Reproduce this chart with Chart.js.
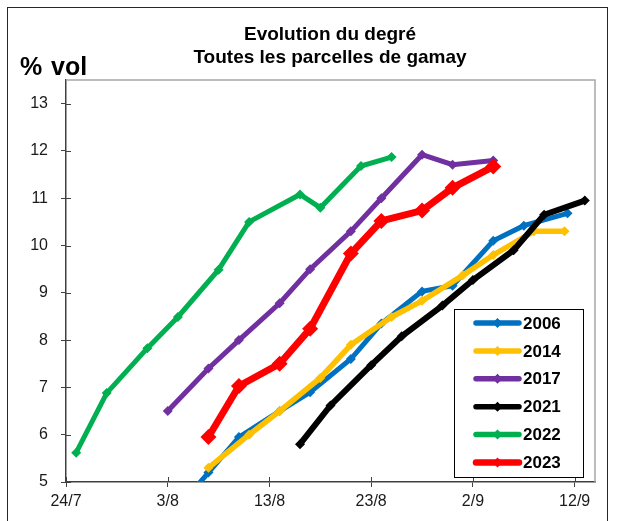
<!DOCTYPE html>
<html>
<head>
<meta charset="utf-8">
<script src="https://cdn.jsdelivr.net/npm/chart.js@4/dist/chart.umd.min.js"></script>
<style>
	body { margin: 0; background: #fff; }
	#wrap { width: 618px; height: 521px; }
</style>
</head>
<body>
<div id="wrap"><canvas id="chart-degre" width="618" height="521"></canvas></div>
<script>
// Utilities
const tickLabels = ['24/7', '3/8', '13/8', '23/8', '2/9', '12/9']; // every 10 days from 24/7
const years = ['2006', '2014', '2017', '2021', '2022', '2023'];
const colors = ['#0070C0', '#FFC000', '#7030A0', '#000000', '#00B050', '#FF0000'];

// days after 24/7 and % vol
const days2006 = [11, 14, 17, 21, 24, 28, 31, 35, 38, 42, 45, 49.3];
const vol2006 = [4.45, 5.2, 5.95, 6.5, 6.9, 7.6, 8.35, 9.03, 9.15, 10.1, 10.42, 10.68];

const days2014 = [14, 18, 21, 25, 28, 32, 35, 39, 42, 46, 49];
const vol2014 = [5.3, 6.0, 6.5, 7.2, 7.9, 8.49, 8.83, 9.37, 9.8, 10.3, 10.3];

const days2017 = [10, 14, 17, 21, 24, 28, 31, 35, 38, 42];
const vol2017 = [6.5, 7.4, 8.0, 8.78, 9.5, 10.3, 11.0, 11.92, 11.71, 11.8];

const days2021 = [23, 26, 30, 33, 37, 40, 44, 47, 51];
const vol2021 = [5.8, 6.62, 7.47, 8.08, 8.73, 9.27, 9.9, 10.65, 10.95];

const days2022 = [1, 4, 8, 11, 15, 18, 23, 25, 29, 32];
const vol2022 = [5.62, 6.88, 7.83, 8.49, 9.49, 10.5, 11.08, 10.8, 11.68, 11.87];

const days2023 = [14, 17, 21, 24, 28, 31, 35, 38, 42];
const vol2023 = [5.95, 7.03, 7.5, 8.24, 9.83, 10.52, 10.74, 11.22, 11.67];

const allDays = [days2006, days2014, days2017, days2021, days2022, days2023];
const allVols = [vol2006, vol2014, vol2017, vol2021, vol2022, vol2023];
const widths = [5, 5.5, 5, 6, 5, 7];
const radii = [5, 5, 5, 5, 5, 8];

const FONT = '"Liberation Sans", Arial, sans-serif';

// title, axis unit, frame, inner ticks, legend
const decor = {
	id: 'decor',
	afterDraw(chart) {
		const ctx = chart.ctx;
		const a = chart.chartArea;
		const xs = chart.scales.x;
		const ys = chart.scales.y;
		ctx.save();

		// outer frame
		ctx.strokeStyle = '#262626';
		ctx.lineWidth = 1;
		ctx.strokeRect(7.5, 7.5, 600, 530);

		// plot border top / right
		ctx.strokeStyle = '#a6a6a6';
		ctx.lineWidth = 1.5;
		ctx.beginPath();
		ctx.moveTo(a.left, a.top);
		ctx.lineTo(a.right, a.top);
		ctx.lineTo(a.right, a.bottom);
		ctx.stroke();

		// tick marks inside
		ctx.strokeStyle = '#404040';
		ctx.lineWidth = 1;
		xs.ticks.forEach((t) => {
			const x = Math.round(xs.getPixelForValue(t.value)) + 0.5;
			ctx.beginPath();
			ctx.moveTo(x, a.bottom);
			ctx.lineTo(x, a.bottom - 5);
			ctx.stroke();
		});
		ys.ticks.forEach((t) => {
			const y = Math.round(ys.getPixelForValue(t.value)) + 0.5;
			ctx.beginPath();
			ctx.moveTo(a.left, y);
			ctx.lineTo(a.left + 5, y);
			ctx.stroke();
		});

		// title
		ctx.fillStyle = '#000';
		ctx.textAlign = 'center';
		ctx.textBaseline = 'alphabetic';
		ctx.font = 'bold 19px ' + FONT;
		ctx.fillText('Evolution du degré', 330, 40);
		ctx.fillText('Toutes les parcelles de gamay', 330, 63);

		// unit
		ctx.textAlign = 'left';
		ctx.font = 'bold 25px ' + FONT;
		ctx.fillText('%', 20, 75);
		ctx.fillText('vol', 51, 75);

		// legend
		ctx.strokeStyle = '#000';
		ctx.lineWidth = 1;
		ctx.strokeRect(454.5, 309.5, 129, 168);
		ctx.font = 'bold 17px ' + FONT;
		ctx.textBaseline = 'middle';
		years.forEach((yr, i) => {
			const y = 323 + i * 27.9;
			ctx.strokeStyle = colors[i];
			ctx.lineWidth = i === 5 ? 6.5 : 5.5;
			ctx.lineCap = 'round';
			ctx.beginPath();
			ctx.moveTo(476, y);
			ctx.lineTo(519, y);
			ctx.stroke();
			ctx.fillStyle = colors[i];
			ctx.beginPath();
			ctx.moveTo(497.5, y - 5);
			ctx.lineTo(502.5, y);
			ctx.lineTo(497.5, y + 5);
			ctx.lineTo(492.5, y);
			ctx.closePath();
			ctx.fill();
			ctx.fillStyle = '#000';
			ctx.fillText(yr, 523, y + 1);
		});

		ctx.restore();
	},
};

!(function () {
	const ctx = document.getElementById('chart-degre');

	new Chart(ctx, {
		type: 'line',
		data: {
			datasets: years.map((yr, i) => ({
				label: yr,
				data: allDays[i].map((d, j) => ({ x: d, y: allVols[i][j] })),
				borderColor: colors[i],
				backgroundColor: colors[i],
				borderWidth: widths[i],
				pointStyle: 'rectRot',
				pointRadius: radii[i],
				pointBorderWidth: 0,
				pointHoverRadius: radii[i],
				tension: 0,
				order: 6 - i, // later years on top
			})),
		},
		options: {
			responsive: false,
			animation: false,
			layout: {
				padding: { top: 80, right: 23, left: 0, bottom: 0 },
			},
			scales: {
				x: {
					type: 'linear',
					min: 0,
					max: 52,
					afterFit: (scale) => { scale.height = 39; },
					border: { display: true, color: '#404040', width: 1.5 },
					grid: { display: true, drawOnChartArea: false, tickLength: 5, color: '#404040' },
					ticks: {
						stepSize: 10,
						includeBounds: false,
						padding: 5,
						color: '#1a1a1a',
						font: { family: FONT, size: 16 },
						maxRotation: 0,
						callback: (v) => tickLabels[v / 10],
					},
				},
				y: {
					min: 5,
					max: 13.5,
					afterFit: (scale) => { scale.width = 66; },
					border: { display: true, color: '#404040', width: 1.5 },
					grid: { display: true, drawOnChartArea: false, tickLength: 5, color: '#404040' },
					ticks: {
						stepSize: 1,
						includeBounds: false,
						padding: 13,
						color: '#1a1a1a',
						font: { family: FONT, size: 16 },
					},
				},
			},
			plugins: {
				legend: { display: false },
				title: { display: false },
				tooltip: { enabled: false },
			},
		},
		plugins: [decor],
	});
})();
</script>
</body>
</html>
